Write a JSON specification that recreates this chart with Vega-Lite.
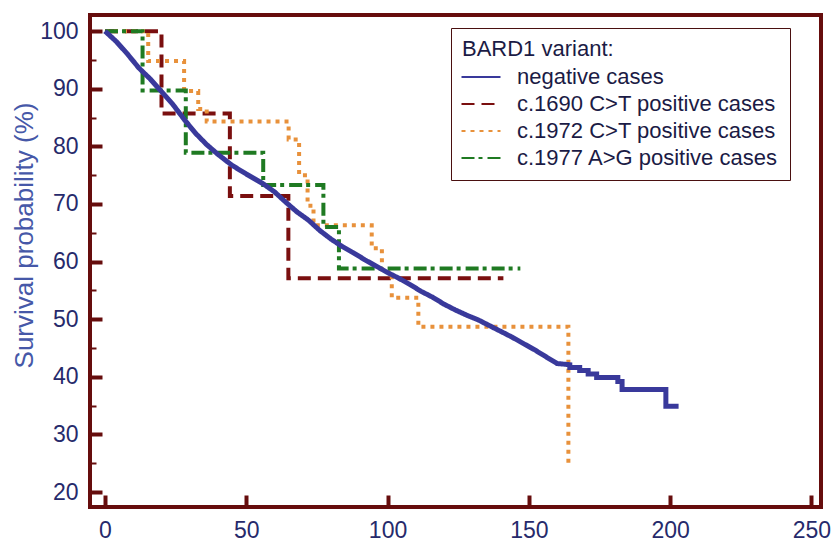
{
  "$schema": "https://vega.github.io/schema/vega-lite/v6.json",
  "width": 731,
  "height": 492,
  "autosize": {"type": "none"},
  "padding": {"left": 90, "top": 15, "right": 15, "bottom": 35},
  "background": "white",
  "config": {
    "view": {"stroke": "#660d0d", "strokeWidth": 4},
    "font": "Liberation Sans"
  },
  "datasets": {
    "km": [
      {"group": "c.1690 C>T positive cases", "time": 0, "surv": 100, "seq": 1},
      {"group": "c.1690 C>T positive cases", "time": 20, "surv": 100, "seq": 2},
      {"group": "c.1690 C>T positive cases", "time": 20, "surv": 85.7, "seq": 3},
      {"group": "c.1690 C>T positive cases", "time": 44.2, "surv": 85.7, "seq": 4},
      {"group": "c.1690 C>T positive cases", "time": 44.2, "surv": 71.4, "seq": 5},
      {"group": "c.1690 C>T positive cases", "time": 64.9, "surv": 71.4, "seq": 6},
      {"group": "c.1690 C>T positive cases", "time": 64.9, "surv": 57.1, "seq": 7},
      {"group": "c.1690 C>T positive cases", "time": 141, "surv": 57.1, "seq": 8},

      {"group": "c.1972 C>T positive cases", "time": 0, "surv": 100, "seq": 1},
      {"group": "c.1972 C>T positive cases", "time": 15.3, "surv": 100, "seq": 2},
      {"group": "c.1972 C>T positive cases", "time": 15.3, "surv": 94.8, "seq": 3},
      {"group": "c.1972 C>T positive cases", "time": 28, "surv": 94.8, "seq": 4},
      {"group": "c.1972 C>T positive cases", "time": 28, "surv": 89.6, "seq": 5},
      {"group": "c.1972 C>T positive cases", "time": 33, "surv": 89.6, "seq": 6},
      {"group": "c.1972 C>T positive cases", "time": 33, "surv": 86.5, "seq": 7},
      {"group": "c.1972 C>T positive cases", "time": 36, "surv": 86.5, "seq": 8},
      {"group": "c.1972 C>T positive cases", "time": 36, "surv": 84.3, "seq": 9},
      {"group": "c.1972 C>T positive cases", "time": 65, "surv": 84.3, "seq": 10},
      {"group": "c.1972 C>T positive cases", "time": 65, "surv": 81.2, "seq": 11},
      {"group": "c.1972 C>T positive cases", "time": 68.7, "surv": 81.2, "seq": 12},
      {"group": "c.1972 C>T positive cases", "time": 68.7, "surv": 75, "seq": 13},
      {"group": "c.1972 C>T positive cases", "time": 71.7, "surv": 75, "seq": 14},
      {"group": "c.1972 C>T positive cases", "time": 71.7, "surv": 69.7, "seq": 15},
      {"group": "c.1972 C>T positive cases", "time": 73.8, "surv": 69.7, "seq": 16},
      {"group": "c.1972 C>T positive cases", "time": 73.8, "surv": 66.3, "seq": 17},
      {"group": "c.1972 C>T positive cases", "time": 94.4, "surv": 66.3, "seq": 18},
      {"group": "c.1972 C>T positive cases", "time": 94.4, "surv": 62.3, "seq": 19},
      {"group": "c.1972 C>T positive cases", "time": 98, "surv": 62.3, "seq": 20},
      {"group": "c.1972 C>T positive cases", "time": 98, "surv": 58.2, "seq": 21},
      {"group": "c.1972 C>T positive cases", "time": 101.5, "surv": 58.2, "seq": 22},
      {"group": "c.1972 C>T positive cases", "time": 101.5, "surv": 53.7, "seq": 23},
      {"group": "c.1972 C>T positive cases", "time": 110.9, "surv": 53.7, "seq": 24},
      {"group": "c.1972 C>T positive cases", "time": 110.9, "surv": 48.7, "seq": 25},
      {"group": "c.1972 C>T positive cases", "time": 164, "surv": 48.7, "seq": 26},
      {"group": "c.1972 C>T positive cases", "time": 164, "surv": 24.3, "seq": 27},

      {"group": "c.1977 A>G positive cases", "time": 0, "surv": 100, "seq": 1},
      {"group": "c.1977 A>G positive cases", "time": 13.3, "surv": 100, "seq": 2},
      {"group": "c.1977 A>G positive cases", "time": 13.3, "surv": 89.7, "seq": 3},
      {"group": "c.1977 A>G positive cases", "time": 28.6, "surv": 89.7, "seq": 4},
      {"group": "c.1977 A>G positive cases", "time": 28.6, "surv": 78.9, "seq": 5},
      {"group": "c.1977 A>G positive cases", "time": 56, "surv": 78.9, "seq": 6},
      {"group": "c.1977 A>G positive cases", "time": 56, "surv": 73.3, "seq": 7},
      {"group": "c.1977 A>G positive cases", "time": 77.3, "surv": 73.3, "seq": 8},
      {"group": "c.1977 A>G positive cases", "time": 77.3, "surv": 66, "seq": 9},
      {"group": "c.1977 A>G positive cases", "time": 82.8, "surv": 66, "seq": 10},
      {"group": "c.1977 A>G positive cases", "time": 82.8, "surv": 58.8, "seq": 11},
      {"group": "c.1977 A>G positive cases", "time": 147, "surv": 58.8, "seq": 12},

      {"group": "negative cases", "time": 0, "surv": 100, "seq": 1},
      {"group": "negative cases", "time": 4, "surv": 98.2, "seq": 2},
      {"group": "negative cases", "time": 8, "surv": 96, "seq": 3},
      {"group": "negative cases", "time": 12, "surv": 93.6, "seq": 4},
      {"group": "negative cases", "time": 16, "surv": 91.7, "seq": 5},
      {"group": "negative cases", "time": 20, "surv": 89.5, "seq": 6},
      {"group": "negative cases", "time": 24, "surv": 87.3, "seq": 7},
      {"group": "negative cases", "time": 28, "surv": 84.7, "seq": 8},
      {"group": "negative cases", "time": 32, "surv": 82.3, "seq": 9},
      {"group": "negative cases", "time": 36, "surv": 80.3, "seq": 10},
      {"group": "negative cases", "time": 40, "surv": 78.6, "seq": 11},
      {"group": "negative cases", "time": 45, "surv": 76.7, "seq": 12},
      {"group": "negative cases", "time": 50, "surv": 75.2, "seq": 13},
      {"group": "negative cases", "time": 56, "surv": 73.5, "seq": 14},
      {"group": "negative cases", "time": 60, "surv": 72.1, "seq": 15},
      {"group": "negative cases", "time": 64, "surv": 70.3, "seq": 16},
      {"group": "negative cases", "time": 68, "surv": 68.6, "seq": 17},
      {"group": "negative cases", "time": 72, "surv": 67.2, "seq": 18},
      {"group": "negative cases", "time": 76, "surv": 65.4, "seq": 19},
      {"group": "negative cases", "time": 80, "surv": 63.9, "seq": 20},
      {"group": "negative cases", "time": 84, "surv": 62.6, "seq": 21},
      {"group": "negative cases", "time": 88, "surv": 61.5, "seq": 22},
      {"group": "negative cases", "time": 92, "surv": 60.3, "seq": 23},
      {"group": "negative cases", "time": 96, "surv": 59.2, "seq": 24},
      {"group": "negative cases", "time": 100, "surv": 58.1, "seq": 25},
      {"group": "negative cases", "time": 104, "surv": 57.1, "seq": 26},
      {"group": "negative cases", "time": 108, "surv": 56, "seq": 27},
      {"group": "negative cases", "time": 112, "surv": 54.8, "seq": 28},
      {"group": "negative cases", "time": 116, "surv": 53.8, "seq": 29},
      {"group": "negative cases", "time": 120, "surv": 52.6, "seq": 30},
      {"group": "negative cases", "time": 124, "surv": 51.6, "seq": 31},
      {"group": "negative cases", "time": 128, "surv": 50.7, "seq": 32},
      {"group": "negative cases", "time": 132, "surv": 49.9, "seq": 33},
      {"group": "negative cases", "time": 136, "surv": 48.9, "seq": 34},
      {"group": "negative cases", "time": 140, "surv": 47.9, "seq": 35},
      {"group": "negative cases", "time": 144, "surv": 46.9, "seq": 36},
      {"group": "negative cases", "time": 148, "surv": 45.8, "seq": 37},
      {"group": "negative cases", "time": 152, "surv": 44.7, "seq": 38},
      {"group": "negative cases", "time": 156, "surv": 43.5, "seq": 39},
      {"group": "negative cases", "time": 160, "surv": 42.3, "seq": 40},
      {"group": "negative cases", "time": 164.5, "surv": 42.1, "seq": 41},
      {"group": "negative cases", "time": 164.5, "surv": 41.6, "seq": 42},
      {"group": "negative cases", "time": 168, "surv": 41.6, "seq": 43},
      {"group": "negative cases", "time": 168, "surv": 41.1, "seq": 44},
      {"group": "negative cases", "time": 171, "surv": 41.1, "seq": 45},
      {"group": "negative cases", "time": 171, "surv": 40.5, "seq": 46},
      {"group": "negative cases", "time": 174, "surv": 40.5, "seq": 47},
      {"group": "negative cases", "time": 174, "surv": 39.9, "seq": 48},
      {"group": "negative cases", "time": 181.5, "surv": 39.9, "seq": 49},
      {"group": "negative cases", "time": 181.5, "surv": 39.2, "seq": 50},
      {"group": "negative cases", "time": 183, "surv": 39.2, "seq": 51},
      {"group": "negative cases", "time": 183, "surv": 37.8, "seq": 52},
      {"group": "negative cases", "time": 198.5, "surv": 37.8, "seq": 53},
      {"group": "negative cases", "time": 198.5, "surv": 34.9, "seq": 54},
      {"group": "negative cases", "time": 203, "surv": 34.9, "seq": 55}
    ]
  },
  "data": {"name": "km"},
  "layer": [
    {
      "transform": [{"filter": "datum.group !== 'negative cases'"}],
      "mark": {"type": "line", "strokeWidth": 4, "strokeCap": "butt"},
      "encoding": {
        "x": {
          "field": "time", "type": "quantitative",
          "scale": {"domain": [-5.3, 253.4], "nice": false, "zero": false},
          "axis": {
            "values": [0, 50, 100, 150, 200, 250], "tickSize": -12, "tickWidth": 4,
            "tickColor": "#660d0d", "domain": false, "grid": false,
            "labelFontSize": 23, "labelColor": "#262a6b", "labelPadding": 24,
            "labelFlush": false, "title": null
          }
        },
        "y": {
          "field": "surv", "type": "quantitative",
          "scale": {"domain": [17.4, 102.8], "nice": false, "zero": false},
          "axis": {
            "orient": "left",
            "values": [20, 30, 40, 50, 60, 70, 80, 90, 100], "tickSize": -12, "tickWidth": 4,
            "tickColor": "#660d0d", "domain": false, "grid": false,
            "labelFontSize": 23, "labelColor": "#262a6b", "labelPadding": 24,
            "title": "Survival probability (%)", "titleFontSize": 26, "titleFontWeight": "normal",
            "titleColor": "#4658a8", "titleX": -66, "titleY": 220, "titleAngle": -90,
            "titleAlign": "center", "titleBaseline": "middle"
          }
        },
        "color": {
          "field": "group", "type": "nominal",
          "scale": {
            "domain": ["negative cases", "c.1690 C>T positive cases", "c.1972 C>T positive cases", "c.1977 A>G positive cases"],
            "range": ["#39399b", "#7a0f0f", "#e8913b", "#1f7a22"]
          },
          "legend": {
            "title": "BARD1 variant:", "orient": "none", "legendX": 361, "legendY": 13,
            "titleFontSize": 22, "titleFontWeight": "normal", "titleColor": "#1b1b45",
            "labelFontSize": 22, "labelColor": "#1b1b45", "labelLimit": 500,
            "symbolType": "M-3,0H3", "symbolSize": 169, "symbolStrokeWidth": 2,
            "symbolOffset": 8, "labelOffset": 25, "rowPadding": 5, "padding": 11,
            "strokeColor": "#4a1010"
          }
        },
        "strokeDash": {
          "field": "group", "type": "nominal",
          "scale": {
            "domain": ["negative cases", "c.1690 C>T positive cases", "c.1972 C>T positive cases", "c.1977 A>G positive cases"],
            "range": [[1, 0], [13, 7], [4, 5], [13, 4, 4, 5]]
          },
          "legend": {
            "title": "BARD1 variant:", "orient": "none", "legendX": 361, "legendY": 13,
            "titleFontSize": 22, "titleFontWeight": "normal", "titleColor": "#1b1b45",
            "labelFontSize": 22, "labelColor": "#1b1b45", "labelLimit": 500,
            "symbolType": "M-3,0H3", "symbolSize": 169, "symbolStrokeWidth": 2,
            "symbolOffset": 8, "labelOffset": 25, "rowPadding": 5, "padding": 11,
            "strokeColor": "#4a1010"
          }
        },
        "order": {"field": "seq", "type": "quantitative"}
      }
    },
    {
      "transform": [{"filter": "datum.group === 'negative cases'"}],
      "mark": {"type": "line", "strokeWidth": 5},
      "encoding": {
        "x": {
          "field": "time", "type": "quantitative",
          "scale": {"domain": [-5.3, 253.4], "nice": false, "zero": false},
          "axis": {
            "values": [0, 50, 100, 150, 200, 250], "tickSize": -12, "tickWidth": 4,
            "tickColor": "#660d0d", "domain": false, "grid": false,
            "labelFontSize": 23, "labelColor": "#262a6b", "labelPadding": 24,
            "labelFlush": false, "title": null
          }
        },
        "y": {
          "field": "surv", "type": "quantitative",
          "scale": {"domain": [17.4, 102.8], "nice": false, "zero": false},
          "axis": {
            "orient": "left",
            "values": [25, 35, 45, 55, 65, 75, 85, 95], "tickSize": -6, "tickWidth": 2,
            "tickColor": "#660d0d", "domain": false, "grid": false, "labels": false, "title": null
          }
        },
        "color": {
          "field": "group", "type": "nominal",
          "scale": {
            "domain": ["negative cases", "c.1690 C>T positive cases", "c.1972 C>T positive cases", "c.1977 A>G positive cases"],
            "range": ["#39399b", "#7a0f0f", "#e8913b", "#1f7a22"]
          }
        },
        "strokeDash": {
          "field": "group", "type": "nominal",
          "scale": {
            "domain": ["negative cases", "c.1690 C>T positive cases", "c.1972 C>T positive cases", "c.1977 A>G positive cases"],
            "range": [[1, 0], [13, 7], [4, 5], [13, 4, 4, 5]]
          }
        },
        "order": {"field": "seq", "type": "quantitative"}
      }
    }
  ],
  "resolve": {"axis": {"y": "independent"}}
}
